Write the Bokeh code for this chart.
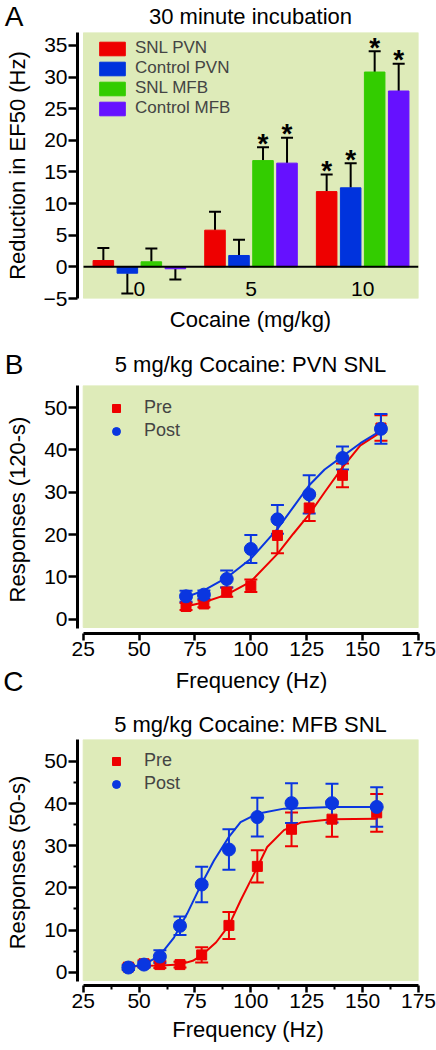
import numpy as np
import pandas as pd
from bokeh.plotting import figure
from bokeh.models import (ColumnDataSource, Range1d, FixedTicker, Whisker, TeeHead,
                          Legend, LegendItem)
from bokeh.layouts import column
from bokeh.embed import file_html
from bokeh.resources import INLINE
from bokeh.core.properties import value

FONT = "Liberation Sans"
BG = "#DEEBB9"
RED = "#EE0000"
BLUE = "#0A36E0"
W = 436
FL, FR = 77, 418  # frame left / right (page px)

# ---------------- Panel A data ----------------
doses = ["0", "5", "10"]
series_a = ["SNL PVN", "Control PVN", "SNL MFB", "Control MFB"]
colors_a = ["#EE0000", "#0033DD", "#33CC00", "#6611FF"]
snl_pvn = [1.0, 5.8, 11.9]
snl_pvn_err = [2.0, 2.9, 2.7]
ctl_pvn = [-1.0, 1.8, 12.5]
ctl_pvn_err = [3.2, 2.5, 3.9]
snl_mfb = [0.8, 16.8, 30.8]
snl_mfb_err = [2.1, 2.1, 3.3]
ctl_mfb = [-0.3, 16.4, 27.8]
ctl_mfb_err = [1.7, 4.0, 4.3]
sig_snl_pvn = [False, False, True]
sig_ctl_pvn = [False, False, True]
sig_snl_mfb = [False, True, True]
sig_ctl_mfb = [False, True, True]
ticks_a = [-5, 0, 5, 10, 15, 20, 25, 30, 35]

# ---------------- Panel B data ----------------
freq_b = [71.0, 79.0, 89.2, 100.0, 111.9, 126.1, 141.0, 158.2]
pre_b = [3.0, 3.6, 6.4, 7.9, 19.8, 26.3, 34.0, 45.2]
pre_b_err = [0.8, 0.8, 1.1, 1.5, 4.2, 3.1, 2.8, 3.0]
post_b = [5.4, 5.8, 9.5, 16.6, 23.6, 29.5, 38.1, 45.0]
post_b_err = [1.3, 1.0, 2.0, 3.3, 3.4, 4.5, 2.7, 3.5]
fit_b_pre_x = [71, 79, 89.2, 100, 112, 119, 126, 133, 141, 149, 158.2]
fit_b_pre_y = [3.0, 4.0, 5.8, 8.9, 15.5, 20.2, 24.7, 30.0, 35.9, 41.1, 44.2]
fit_b_post_x = [71, 79, 89.2, 100, 112, 119, 126, 133, 141, 149, 158.2]
fit_b_post_y = [5.2, 6.8, 9.8, 14.3, 21.4, 26.5, 31.6, 35.4, 38.5, 41.6, 44.6]

# ---------------- Panel C data ----------------
freq_c = [45.2, 52.2, 59.3, 68.3, 78.0, 90.2, 102.9, 118.2, 136.3, 156.3]
pre_c = [1.2, 2.0, 1.8, 1.8, 4.1, 11.1, 25.1, 33.9, 36.3, 37.8]
pre_c_err = [0.6, 0.8, 0.8, 0.7, 1.8, 3.2, 3.8, 4.0, 4.2, 4.5]
post_c = [1.1, 1.8, 3.7, 11.0, 20.8, 29.1, 36.8, 40.1, 40.1, 39.2]
post_c_err = [0.6, 0.7, 1.5, 2.2, 4.2, 4.8, 4.6, 4.7, 4.6, 4.7]
fit_c_pre_x = [45.2, 52, 60, 68, 74, 78, 84.5, 90.2, 95.4, 102.9, 107.3, 114.8, 122.3, 136.3, 156.3]
fit_c_pre_y = [1.35, 1.5, 1.6, 1.8, 2.7, 4.0, 7.1, 11.1, 17.0, 24.9, 29.7, 33.7, 35.5, 36.3, 36.4]
fit_c_post_x = [45.2, 52.2, 59.3, 65.6, 71.5, 78, 83.5, 90.2, 95.4, 102.9, 114.8, 136.3, 156.3]
fit_c_post_y = [1.2, 1.8, 4.0, 8.2, 13.9, 21.0, 26.5, 32.1, 35.6, 37.6, 38.8, 39.2, 39.2]

freq_ticks = [25, 50, 75, 100, 125, 150, 175]
freq_minor = [37.5, 62.5, 87.5, 112.5, 137.5, 162.5]
resp_ticks = [0, 10, 20, 30, 40, 50]
resp_minor = [5, 15, 25, 35, 45]

LETTER_SIZE = "28px"


def base_fig(height, xr, yr, top, bottom, **kw):
    p = figure(width=W, height=height, x_range=xr, y_range=yr, title=None,
               output_backend="svg", toolbar_location=None,
               min_border_left=FL, min_border_right=W - FR,
               min_border_top=top, min_border_bottom=bottom, **kw)
    p.outline_line_color = None
    p.grid.visible = False
    p.background_fill_color = "white"
    p.border_fill_color = "white"
    return p


def strip(y0, y1, letter=None):
    # text strip; data units equal page pixels (y downwards)
    p = base_fig(y1 - y0, Range1d(FL, FR), Range1d(y1, y0), 0, 0,
                 x_axis_type=None, y_axis_type=("linear" if letter else None))
    if letter:
        ax = p.yaxis[0]
        ax.ticker = FixedTicker(ticks=[])
        ax.axis_line_color = None
        ax.major_tick_line_color = None
        ax.minor_tick_line_color = None
        ax.major_label_text_font_size = "0px"
        ax.axis_label = letter
        ax.axis_label_text_font = FONT
        ax.axis_label_text_font_size = LETTER_SIZE
        ax.axis_label_text_font_style = "normal"
        ax.axis_label_text_color = "black"
        ax.axis_label_standoff = 54
        try:
            ax.axis_label_orientation = "horizontal"
        except Exception:
            pass
    return p


def put(p, text, x, y, size):
    p.text(x=[x], y=[y], text=[text], text_font=value(FONT), text_font_size=value(size),
           text_align=value("center"), text_baseline=value("middle"),
           text_color="black")


def style_axis(ax, ticks, minor, tick_out, label, standoff_lbl):
    ax.ticker = FixedTicker(ticks=ticks, minor_ticks=minor)
    ax.axis_line_width = 3
    ax.axis_line_color = "black"
    ax.major_tick_line_width = 2.5
    ax.minor_tick_line_width = 2
    ax.major_tick_out = tick_out
    ax.major_tick_in = 0
    ax.minor_tick_out = 4 if minor else 0
    ax.minor_tick_in = 0
    ax.major_label_text_font = FONT
    ax.major_label_text_font_size = "21px"
    ax.major_label_text_color = "black"
    ax.major_label_standoff = 1
    ax.axis_label = label
    ax.axis_label_text_font = FONT
    ax.axis_label_text_font_size = "22px"
    ax.axis_label_text_font_style = "normal"
    ax.axis_label_text_color = "black"
    ax.axis_label_standoff = standoff_lbl


# ================= header strip A =================
hA = strip(0, 32, "A")
put(hA, "30 minute incubation", 250, 15.7, "22px")

# ================= Panel A =================
ya_lo, ya_hi = -5, 37.05
pA = base_fig(276, Range1d(-0.054, len(doses)), Range1d(ya_lo, ya_hi), 0, 10)
pA.quad(left=0, right=len(doses), bottom=ya_lo, top=ya_hi, color=BG, level="image")

vals = [snl_pvn, ctl_pvn, snl_mfb, ctl_mfb]
errs = [snl_pvn_err, ctl_pvn_err, snl_mfb_err, ctl_mfb_err]
sigs = [sig_snl_pvn, sig_ctl_pvn, sig_snl_mfb, sig_ctl_mfb]
rows = []
for si, name in enumerate(series_a):
    for gi, d in enumerate(doses):
        v = vals[si][gi]
        e = errs[si][gi]
        rows.append(dict(series=name, dose=d, x=gi + 0.5 + (si - 1.5) * 0.215,
                         value=v, err=e, end=v + e if v >= 0 else v - e,
                         sig=sigs[si][gi], color=colors_a[si]))
dfa = pd.DataFrame(rows)

pos = ColumnDataSource(dfa[dfa.value >= 0])
neg = ColumnDataSource(dfa[dfa.value < 0])
pA.add_layout(Whisker(source=pos, base="x", lower="value", upper="end",
                      upper_head=TeeHead(size=12, line_width=2), lower_head=None,
                      line_width=2, line_color="black", level="underlay"))
pA.add_layout(Whisker(source=neg, base="x", lower="end", upper="value",
                      lower_head=TeeHead(size=12, line_width=2), upper_head=None,
                      line_width=2, line_color="black", level="underlay"))

bar_items = []
for si, name in enumerate(series_a):
    src = ColumnDataSource(dfa[dfa.series == name])
    r = pA.vbar(x="x", top="value", bottom=0, width=0.184, source=src,
                fill_color=colors_a[si], line_color=colors_a[si])
    bar_items.append(LegendItem(label=name, renderers=[r]))

pA.segment(x0=0, x1=len(doses), y0=0, y1=0, line_width=2, line_color="black")

star_gap = 0.63
star_src = ColumnDataSource(dfa[dfa.sig].assign(star="*", sy=lambda d: d.end + star_gap))
pA.text(x="x", y="sy", text="star", source=star_src, text_font=value(FONT),
        text_font_size=value("28px"), text_font_style=value("bold"),
        text_align=value("center"), text_baseline=value("middle"), text_color="black")

dose_label_y = -3.43
pA.text(x=[i + 0.5 for i in range(len(doses))], y=[dose_label_y] * len(doses), text=doses,
        text_font=value(FONT), text_font_size=value("21px"), text_align=value("center"),
        text_baseline=value("middle"), text_color="black")

legA = Legend(items=bar_items, location=(19, 180), glyph_width=32, glyph_height=17,
              label_height=17, spacing=0, padding=0, margin=0, label_standoff=7,
              label_text_font=FONT, label_text_font_size="17px",
              border_line_color=None, background_fill_alpha=0)
pA.add_layout(legA)

pA.xaxis.visible = False
style_axis(pA.yaxis[0], ticks_a, [], 9, "Reduction in EF50 (Hz)", 11)
pA.yaxis[0].bounds = (ya_lo, ya_hi)

# ================= header strips B =================
hB1 = strip(308, 342)
put(hB1, "Cocaine (mg/kg)", 250, 318.7, "22px")
hB2 = strip(342, 385, "B")
put(hB2, "5 mg/kg Cocaine: PVN SNL", 250, 363.7, "22px")


# ================= Panels B and C =================
def curve_panel(height, bottom, yr, freq, pre, pre_err, post, post_err,
                fpx, fpy, fqx, fqy, minor, ylabel, xlabel, leg_y):
    xr = Range1d(22.45, freq_ticks[-1])
    p = base_fig(height, xr, yr, 0, bottom)
    p.quad(left=freq_ticks[0], right=freq_ticks[-1], bottom=-1.96, top=yr.end,
           color=BG, level="image")
    p.line(fpx, fpy, line_color=RED, line_width=2)
    p.line(fqx, fqy, line_color=BLUE, line_width=2)
    s_pre = ColumnDataSource(dict(x=freq, y=pre,
                                  lo=[a - b for a, b in zip(pre, pre_err)],
                                  hi=[a + b for a, b in zip(pre, pre_err)]))
    s_post = ColumnDataSource(dict(x=freq, y=post,
                                   lo=[a - b for a, b in zip(post, post_err)],
                                   hi=[a + b for a, b in zip(post, post_err)]))
    for s, c in ((s_pre, RED), (s_post, BLUE)):
        p.add_layout(Whisker(source=s, base="x", lower="lo", upper="hi",
                             upper_head=TeeHead(size=13, line_width=2, line_color=c),
                             lower_head=TeeHead(size=13, line_width=2, line_color=c),
                             line_width=2, line_color=c, level="underlay"))
    r1 = p.scatter("x", "y", source=s_pre, marker="square", size=10,
                   fill_color=RED, line_color=RED)
    r2 = p.scatter("x", "y", source=s_post, marker="circle", size=13,
                   fill_color=BLUE, line_color=BLUE)
    leg = Legend(items=[LegendItem(label="Pre", renderers=[r1]),
                        LegendItem(label="Post", renderers=[r2])],
                 location=(29, leg_y), glyph_width=20, glyph_height=20,
                 label_height=20, spacing=2, padding=0, margin=0,
                 label_standoff=18, label_text_font=FONT,
                 label_text_font_size="18px", border_line_color=None,
                 background_fill_alpha=0)
    p.add_layout(leg)
    style_axis(p.xaxis[0], freq_ticks, freq_minor if minor else [], 7, xlabel, 6)
    p.xaxis[0].bounds = (freq_ticks[0], freq_ticks[-1])
    style_axis(p.yaxis[0], resp_ticks, resp_minor if minor else [], 9, ylabel, 11)
    p.yaxis[0].bounds = (-2.2, yr.end)
    return p


pB = curve_panel(280, 32, Range1d(-3.38, 55.24), freq_b, pre_b, pre_b_err,
                 post_b, post_b_err, fit_b_pre_x, fit_b_pre_y, fit_b_post_x,
                 fit_b_post_y, False, "Responses (120-s)", None, 192)

# ================= header strips C =================
hC1 = strip(665, 697, "C")
put(hC1, "Frequency (Hz)", 251, 679.7, "22px")
hC2 = strip(697, 739)
put(hC2, "5 mg/kg Cocaine: MFB SNL", 250, 723.7, "22px")

pC = curve_panel(311, 65, Range1d(-3.16, 55.2), freq_c, pre_c, pre_c_err,
                 post_c, post_c_err, fit_c_pre_x, fit_c_pre_y, fit_c_post_x,
                 fit_c_post_y, True, "Responses (50-s)", "Frequency (Hz)", 191)

layout = column(hA, pA, hB1, hB2, pB, hC1, hC2, pC, spacing=0)
open("out.html", "w").write(file_html(layout, INLINE))
